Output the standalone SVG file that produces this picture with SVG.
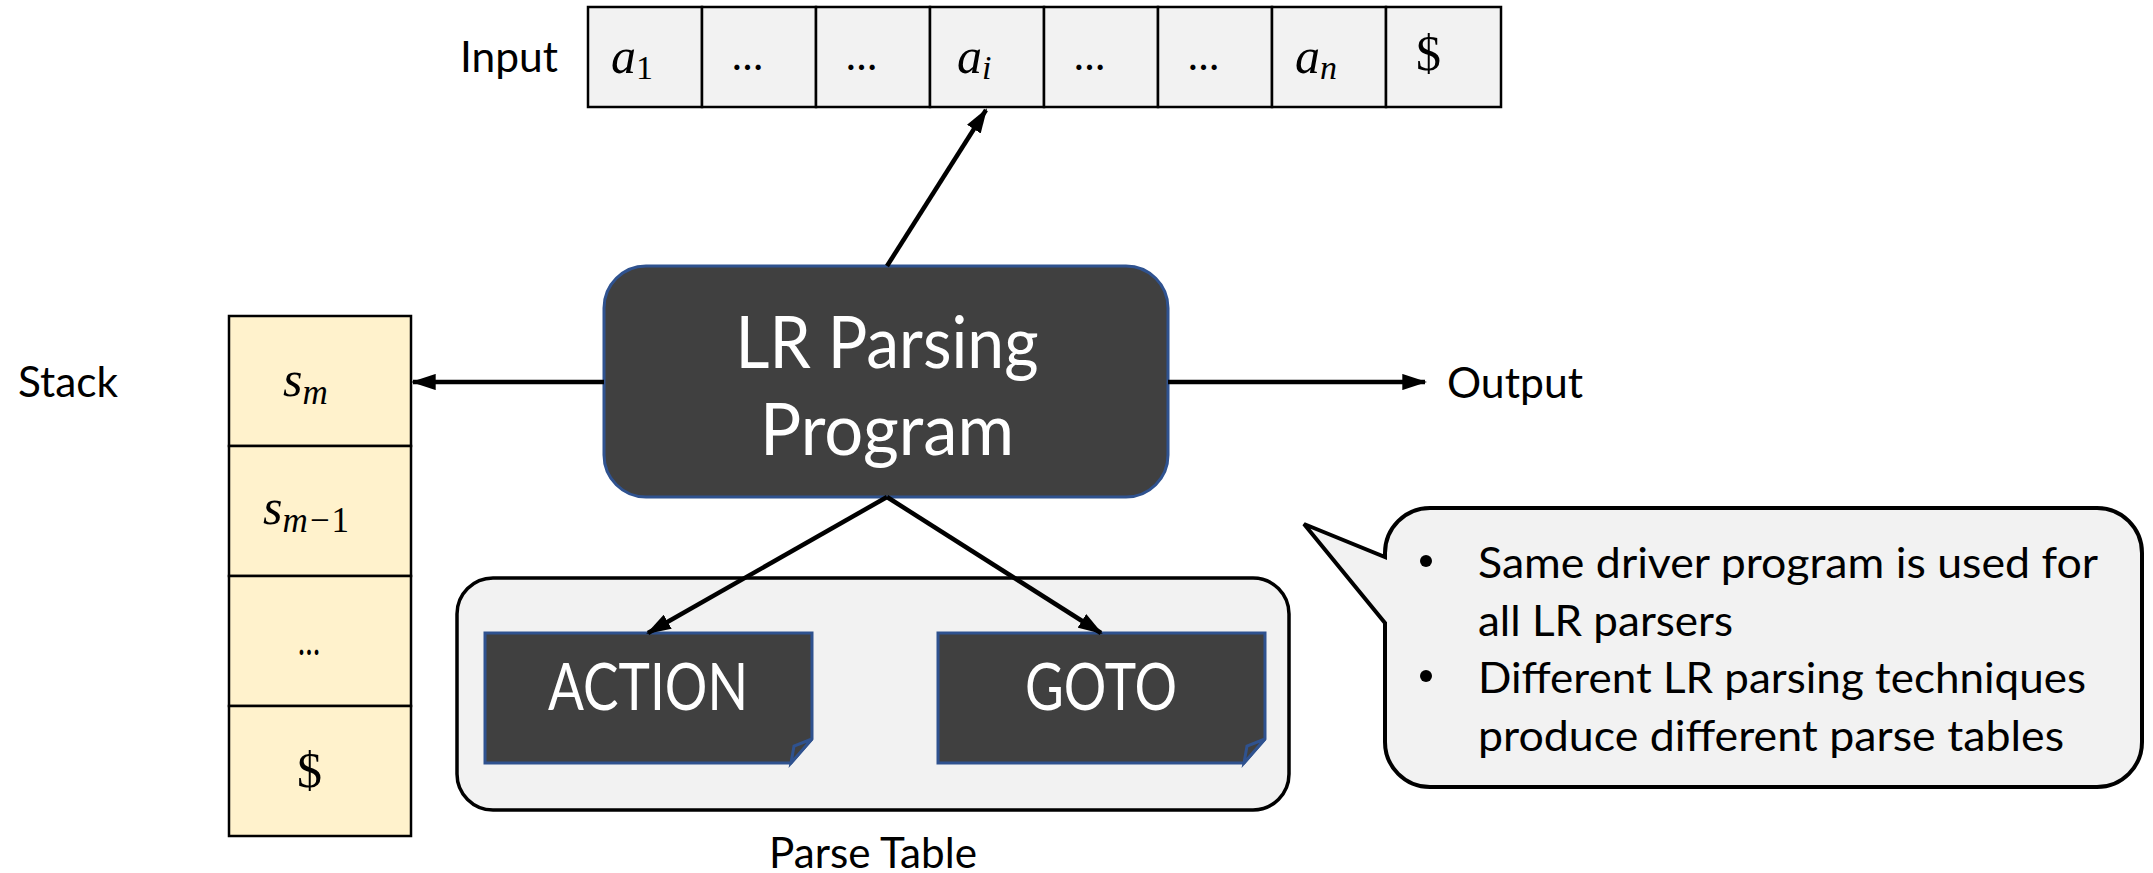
<svg xmlns="http://www.w3.org/2000/svg" width="2153" height="873" viewBox="0 0 2153 873">
<style>
.lbl{font-family:Lato,"Liberation Sans",sans-serif;font-size:42px;fill:#000}
.wt{font-family:Lato,"Liberation Sans",sans-serif;fill:#fff;text-anchor:middle}
.math{font-family:"Liberation Serif","DejaVu Serif",serif;font-style:italic;font-size:50px;fill:#000}
.num{font-style:normal}
.cell{fill:#F2F2F2;stroke:#000;stroke-width:2.5}
.scell{fill:#FFF2CC;stroke:#000;stroke-width:2.5}
.dark{fill:#404040;stroke:#2F528F;stroke-width:3}
.conn{stroke:#000;stroke-width:4.5;fill:none}
.ell{font-family:Lato,"Liberation Sans",sans-serif;font-size:42px;fill:#000}
</style>
<defs>
<marker id="ah" viewBox="0 0 24 16" preserveAspectRatio="none" refX="22" refY="8" markerWidth="5.5" markerHeight="3.6" markerUnits="strokeWidth" orient="auto">
<path d="M0,0 L24,8 L0,16 Z" fill="#000"/>
</marker>
</defs>
<rect width="2153" height="873" fill="#fff"/>

<g id="input-label"><text class="lbl" x="460" y="72" textLength="98" lengthAdjust="spacingAndGlyphs">Input</text></g>

<g id="input-tape">
<rect class="cell" x="588" y="7" width="114" height="100"/>
<rect class="cell" x="702" y="7" width="114" height="100"/>
<rect class="cell" x="816" y="7" width="114" height="100"/>
<rect class="cell" x="930" y="7" width="114" height="100"/>
<rect class="cell" x="1044" y="7" width="114" height="100"/>
<rect class="cell" x="1158" y="7" width="114" height="100"/>
<rect class="cell" x="1272" y="7" width="114" height="100"/>
<rect class="cell" x="1386" y="7" width="115" height="100"/>
<text class="math" x="611" y="73">a<tspan class="num" font-size="34" dy="6">1</tspan></text>
<text class="ell" x="732" y="70" textLength="31" lengthAdjust="spacingAndGlyphs">…</text>
<text class="ell" x="846" y="70" textLength="31" lengthAdjust="spacingAndGlyphs">…</text>
<text class="math" x="957" y="73">a<tspan font-size="34" dy="6">i</tspan></text>
<text class="ell" x="1074" y="70" textLength="31" lengthAdjust="spacingAndGlyphs">…</text>
<text class="ell" x="1188" y="70" textLength="31" lengthAdjust="spacingAndGlyphs">…</text>
<text class="math" x="1295" y="73">a<tspan font-size="34" dy="6">n</tspan></text>
<text class="math num" x="1416" y="70" font-size="46">$</text>
</g>

<g id="stack-label"><text class="lbl" x="18" y="397" textLength="100" lengthAdjust="spacingAndGlyphs">Stack</text></g>

<g id="stack">
<rect class="scell" x="229" y="316" width="182" height="130"/>
<rect class="scell" x="229" y="446" width="182" height="130"/>
<rect class="scell" x="229" y="576" width="182" height="130"/>
<rect class="scell" x="229" y="706" width="182" height="130"/>
<text class="math" x="283" y="396">s<tspan font-size="35" dy="8">m</tspan></text>
<text class="math" x="263" y="524">s<tspan font-size="35" dy="8">m−<tspan class="num">1</tspan></tspan></text>
<text class="ell" x="298" y="655" textLength="22" lengthAdjust="spacingAndGlyphs">…</text>
<text class="math num" x="297" y="787" font-size="46">$</text>
</g>

<g id="lr-program">
<rect class="dark" x="604" y="266" width="564" height="231" rx="42" ry="42" stroke-width="2.5"/>
<text class="wt" x="887" y="368" font-size="71" textLength="303" lengthAdjust="spacingAndGlyphs">LR Parsing</text>
<text class="wt" x="887" y="455" font-size="71" textLength="254" lengthAdjust="spacingAndGlyphs">Program</text>
</g>

<g id="output-label"><text class="lbl" x="1447" y="398" textLength="136" lengthAdjust="spacingAndGlyphs">Output</text></g>

<g id="parse-table">
<rect x="457" y="578" width="832" height="232" rx="36" ry="36" fill="#F2F2F2" stroke="#000" stroke-width="3.5"/>
<text class="lbl" x="873" y="868" text-anchor="middle" textLength="208" lengthAdjust="spacingAndGlyphs">Parse Table</text>
</g>

<g id="action">
<path class="dark" d="M485,633 H812 V739 L791,763 H485 Z"/>
<path class="dark" d="M812,739 L794,746 L791,763 Z" fill="#333"/>
<text class="wt" x="648" y="710" font-size="66" textLength="200" lengthAdjust="spacingAndGlyphs">ACTION</text>
</g>

<g id="goto">
<path class="dark" d="M938,633 H1265 V739 L1244,763 H938 Z"/>
<path class="dark" d="M1265,739 L1247,746 L1244,763 Z" fill="#333"/>
<text class="wt" x="1101" y="710" font-size="66" textLength="152" lengthAdjust="spacingAndGlyphs">GOTO</text>
</g>

<g id="callout">
<path d="M1430,508 H2097 A45,45 0 0 1 2142,553 V742 A45,45 0 0 1 2097,787 H1430 A45,45 0 0 1 1385,742 V623 L1304,524 L1385,557 V553 A45,45 0 0 1 1430,508 Z" fill="#F2F2F2" stroke="#000" stroke-width="4" stroke-linejoin="miter"/>
<circle cx="1426" cy="561" r="6" fill="#000"/>
<circle cx="1426" cy="676" r="6" fill="#000"/>
<text class="lbl" x="1478" y="578" font-size="41" textLength="620" lengthAdjust="spacingAndGlyphs">Same driver program is used for</text>
<text class="lbl" x="1478" y="636" font-size="41" textLength="255" lengthAdjust="spacingAndGlyphs">all LR parsers</text>
<text class="lbl" x="1478" y="693" font-size="41" textLength="608" lengthAdjust="spacingAndGlyphs">Different LR parsing techniques</text>
<text class="lbl" x="1478" y="751" font-size="41" textLength="586" lengthAdjust="spacingAndGlyphs">produce different parse tables</text>
</g>

<g id="connectors">
<line class="conn" x1="887" y1="266" x2="986" y2="110" marker-end="url(#ah)"/>
<line class="conn" x1="604" y1="382" x2="413" y2="382" marker-end="url(#ah)"/>
<line class="conn" x1="1168" y1="382" x2="1425" y2="382" marker-end="url(#ah)"/>
<line class="conn" x1="887" y1="497" x2="648" y2="633" marker-end="url(#ah)"/>
<line class="conn" x1="887" y1="497" x2="1101" y2="633" marker-end="url(#ah)"/>
</g>
</svg>
